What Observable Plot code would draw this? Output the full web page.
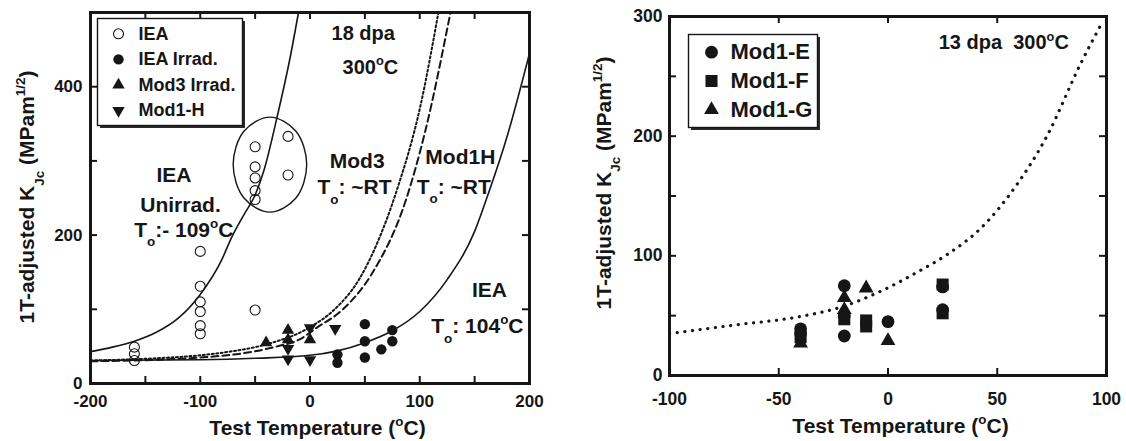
<!DOCTYPE html>
<html><head><meta charset="utf-8">
<script src="https://cdn.jsdelivr.net/npm/d3@7"></script>
<script src="https://cdn.jsdelivr.net/npm/@observablehq/plot@0.6"></script>
<style>
body{margin:0;background:#fff;}
#wrap{display:flex;width:1126px;height:441px;overflow:hidden;}
</style></head><body><div id="wrap"></div>
<script>
// ---------------- DATA ----------------
// Left panel: [test temperature °C, 1T-adjusted KJc MPa·m^1/2]
const ieaUnirr = [[-160,49],[-160,40],[-160,31],[-100,178],[-100,131],[-100,110],[-100,97],[-100,78],[-100,67],
  [-50,99],[-50,319],[-50,292],[-50,277],[-50,260],[-50,248],[-20,333],[-20,281]];
const ieaIrrad = [[25,39],[25,28],[50,80],[50,57],[50,35],[65,46],[75,72],[75,57]];
const mod3Irrad = [[-40,55],[-20,72],[-20,59],[0,59]];
const mod1H = [[-20,47],[-20,33],[0,75],[0,32],[23,74]];
// fitted master curves
const curveIEAUnirr = [[-200,43],[-180,49],[-160,57],[-140,69],[-120,88],[-100,120],[-80,168],[-72,195],[-60,228],[-50,254],[-42,287],[-30,359],[-18,440],[-10.5,500]];
const curveMod3 = [[-200,31],[-140,34],[-100,38],[-73,43],[-50,49],[-30,57],[-10,68],[0,76],[21,98],[45,141],[60,185],[79,260],[100,370],[117,500]];
const curveMod1H = [[-200,30],[-140,32],[-100,35],[-60,41],[-30,50],[-10,59],[6,75],[30,100],[56,147],[88,250],[105,340],[128,500]];
const curveIEAIrrad = [[-200,31],[-100,32],[-50,34],[0,38],[25,44],[50,55],[75,71],[100,97],[125,140],[150,205],[163,258],[180,335],[200,445]];
// ellipse drawn round the unirradiated IEA points near -40 °C
const ellipsePts = [[-70,295],[-60.2,340],[-36.5,359],[-12.8,340],[-3,295],[-12.8,250],[-36.5,231],[-60.2,250]];
const legendLeft = ["IEA","IEA Irrad.","Mod3 Irrad.","Mod1-H"];
const labelsLeftBig = [
  {T:-124, K:281, label:"IEA"},
  {T:-118, K:240, label:"Unirrad."},
  {T:-115, K:207, label:"T_{o}:- 109^{o}C"},
  {T:43, K:300, label:"Mod3"},
  {T:40.5, K:264, label:"T_{o}: ~RT"},
  {T:137, K:305, label:"Mod1H"},
  {T:131, K:265, label:"T_{o}: ~RT"},
  {T:163.5, K:125, label:"IEA"},
  {T:152.5, K:77, label:"T_{o}: 104^{o}C"}
];
const labelsLeftSmall = [
  {T:48.5, K:472, label:"18 dpa"},
  {T:55, K:426, label:"300^{o}C"}
];
const xTicksL = [-200,-100,0,100,200], xMinorL = [-150,-100,-50,0,50,100,150];
const yTicksL = [0,200,400], yMinorL = [100,200,300,400];

// Right panel
const mod1E = [[-40,39],[-40,35],[-20,75],[-20,50],[-20,33],[0,45],[25,74],[25,55]];
const mod1F = [[-40,32],[-20,47],[-10,46],[-10,41],[25,76],[25,52]];
const mod1G = [[-40,27],[-20,65],[-20,55],[-10,73],[0,29]];
const curveRight = [[-100,35],[-71,42],[-41,49],[-20,58],[-5,69],[14,87],[27,101],[43,124],[58,157],[73,201],[88,260],[98,295]];
const legendRight = ["Mod1-E","Mod1-F","Mod1-G"];
const labelsRight = [{T:53, K:278, label:"13 dpa  300^{o}C"}];
const xTicksR = [-100,-50,0,50,100], xMinorR = [-50,0,50];
const yTicksR = [0,100,200,300], yMinorR = [50,100,150,200,250];
const xTitle = "Test Temperature (^{o}C)";
const yTitle = "1T-adjusted K_{Jc} (MPam^{1/2})";

// ---------------- STYLE ----------------
const FONT = '"Liberation Sans", Arial, Helvetica, sans-serif';
const INK = "#161616";
const fmt = d => String(d);
const triangleDown = {draw(ctx, size){ const s3=Math.sqrt(3); const y=Math.sqrt(size/(s3*3)); ctx.moveTo(0,y*2); ctx.lineTo(-s3*y,-y); ctx.lineTo(s3*y,-y); ctx.closePath(); }};
const symLeft = {
  "IEA": {symbol:"circle", r:5, fill:"none", stroke:INK, sw:1.1},
  "IEA Irrad.": {symbol:"circle", r:5.2, fill:INK, stroke:"none", sw:0},
  "Mod3 Irrad.": {symbol:"triangle", r:4.6, fill:INK, stroke:"none", sw:0},
  "Mod1-H": {symbol:triangleDown, r:4.6, fill:INK, stroke:"none", sw:0}
};
const symRight = {
  "Mod1-E": {symbol:"circle", r:6.4, fill:INK},
  "Mod1-F": {symbol:"square", r:6.8, fill:INK},
  "Mod1-G": {symbol:"triangle", r:5.5, fill:INK}
};

function inwardTicks(xs, ys, iw, ih, len=7){
  const o = {stroke:INK, strokeWidth:2};
  return [
    Plot.tickX(xs, {x:d=>d, insetTop:ih-len, ...o}),
    Plot.tickX(xs, {x:d=>d, insetBottom:ih-len, ...o}),
    Plot.tickY(ys, {y:d=>d, insetRight:iw-len, ...o}),
    Plot.tickY(ys, {y:d=>d, insetLeft:iw-len, ...o})
  ];
}
function legendMarks(names, styles, {x0, y0, step, tx, fontSize, box, shadow}){
  const m = [
    Plot.frame({...shadow, fill:"#2a2a2a", stroke:"none"}),
    Plot.frame({...box, fill:"white", stroke:INK, strokeWidth:1.4})
  ];
  names.forEach((name, i) => {
    const st = styles[name];
    m.push(Plot.dot([name], {frameAnchor:"top-left", dx:x0, dy:y0+i*step, symbol:st.symbol, r:st.r, fill:st.fill, stroke:st.stroke||"none", strokeWidth:st.sw||0}));
    m.push(Plot.text([name], {frameAnchor:"top-left", dx:tx, dy:y0+i*step, text:d=>d, textAnchor:"start", lineAnchor:"middle", fontSize, fill:INK}));
  });
  return m;
}
const X = d => d[0], Y = d => d[1];

// ---------------- LEFT PANEL ----------------
const WL=560, HL=441, mL={l:90,r:31,t:12,b:58};
const iwL = WL-mL.l-mL.r, ihL = HL-mL.t-mL.b;
const left = Plot.plot({
  width:WL, height:HL, marginLeft:mL.l, marginRight:mL.r, marginTop:mL.t, marginBottom:mL.b,
  style:{fontFamily:FONT, fontSize:"17px", fontWeight:"bold", color:INK, background:"white", overflow:"visible"},
  x:{domain:[-200,200], label:null},
  y:{domain:[0,500], label:null},
  marks:[
    Plot.axisX({ticks:xTicksL, tickSize:0, tickPadding:11, tickFormat:fmt, fontSize:17}),
    Plot.axisY({ticks:yTicksL, tickSize:0, tickPadding:8, tickFormat:fmt, fontSize:17}),
    ...inwardTicks(xMinorL, yMinorL, iwL, ihL),
    Plot.line(curveIEAIrrad, {x:X, y:Y, curve:"monotone-x", stroke:INK, strokeWidth:1.6, clip:true}),
    Plot.line(curveMod1H, {x:X, y:Y, curve:"monotone-x", stroke:INK, strokeWidth:2, strokeDasharray:"7,4", clip:true}),
    Plot.line(curveMod3, {x:X, y:Y, curve:"monotone-x", stroke:INK, strokeWidth:2, strokeDasharray:"2,2.5", clip:true}),
    Plot.line(curveIEAUnirr, {x:X, y:Y, curve:"monotone-x", stroke:INK, strokeWidth:1.6, clip:true}),
    Plot.line(ellipsePts, {x:X, y:Y, curve:"catmull-rom-closed", stroke:INK, strokeWidth:1.4}),
    Plot.dot(ieaUnirr, {x:X, y:Y, symbol:"circle", r:5, fill:"none", stroke:INK, strokeWidth:1.1}),
    Plot.dot(ieaIrrad, {x:X, y:Y, symbol:"circle", r:5.2, fill:INK}),
    Plot.dot(mod3Irrad, {x:X, y:Y, symbol:"triangle", r:4.6, fill:INK}),
    Plot.dot(mod1H, {x:X, y:Y, symbol:triangleDown, r:4.6, fill:INK}),
    Plot.text(labelsLeftBig, {x:"T", y:"K", text:"label", fontSize:21, fill:INK}),
    Plot.text(labelsLeftSmall, {x:"T", y:"K", text:"label", fontSize:20, fill:INK}),
    ...legendMarks(legendLeft, symLeft, {x0:28, y0:21.3, step:25.6, tx:48, fontSize:18,
      box:{insetLeft:7, insetTop:6, insetRight:287, insetBottom:258},
      shadow:{insetLeft:9.5, insetTop:8.5, insetRight:284.5, insetBottom:255.5}}),
    Plot.frame({stroke:INK, strokeWidth:3}),
    Plot.text([xTitle], {frameAnchor:"bottom", dx:7.5, dy:45, text:d=>d, textAnchor:"middle", lineAnchor:"middle", fontSize:21, fill:INK}),
    Plot.text([yTitle], {frameAnchor:"left", dx:-63, dy:-1, rotate:-90, text:d=>d, textAnchor:"middle", lineAnchor:"middle", fontSize:21, fill:INK})
  ]
});

// ---------------- RIGHT PANEL ----------------
const WR=566, HR=441, mR={l:109,r:20,t:16,b:66};
const iwR = WR-mR.l-mR.r, ihR = HR-mR.t-mR.b;
const right = Plot.plot({
  width:WR, height:HR, marginLeft:mR.l, marginRight:mR.r, marginTop:mR.t, marginBottom:mR.b,
  style:{fontFamily:FONT, fontSize:"17px", fontWeight:"bold", color:INK, background:"white", overflow:"visible"},
  x:{domain:[-100,100], label:null},
  y:{domain:[0,300], label:null},
  marks:[
    Plot.axisX({ticks:xTicksR, tickSize:0, tickPadding:17, tickFormat:fmt, fontSize:17.5}),
    Plot.axisY({ticks:yTicksR, tickSize:0, tickPadding:7, tickFormat:fmt, fontSize:17.5}),
    ...inwardTicks(xMinorR, yMinorR, iwR, ihR),
    Plot.line(curveRight, {x:X, y:Y, curve:"monotone-x", stroke:INK, strokeWidth:3.2, strokeDasharray:"0.1,7.6", strokeLinecap:"round", clip:true}),
    Plot.dot(mod1F, {x:X, y:Y, symbol:"square", r:6.8, fill:INK}),
    Plot.dot(mod1G, {x:X, y:Y, symbol:"triangle", r:5.5, fill:INK}),
    Plot.dot(mod1E, {x:X, y:Y, symbol:"circle", r:6.4, fill:INK}),
    Plot.text(labelsRight, {x:"T", y:"K", text:"label", fontSize:20, fill:INK}),
    ...legendMarks(legendRight, symRight, {x0:42, y0:35.7, step:28.8, tx:61, fontSize:22,
      box:{insetLeft:19, insetTop:18, insetRight:289, insetBottom:248},
      shadow:{insetLeft:21.5, insetTop:20.5, insetRight:286.5, insetBottom:245.5}}),
    Plot.frame({stroke:INK, strokeWidth:3}),
    Plot.text([xTitle], {frameAnchor:"bottom", dx:12.5, dy:51, text:d=>d, textAnchor:"middle", lineAnchor:"middle", fontSize:21, fill:INK}),
    Plot.text([yTitle], {frameAnchor:"left", dx:-65.5, dy:-13, rotate:-90, text:d=>d, textAnchor:"middle", lineAnchor:"middle", fontSize:21, fill:INK})
  ]
});

const wrap = document.getElementById("wrap");
wrap.appendChild(left);
wrap.appendChild(right);

// rich text: ^{...} superscript, _{...} subscript
function rich(svg){
  svg.querySelectorAll("text").forEach(t => {
    const s = t.textContent;
    if (!/[\^_]\{/.test(s)) return;
    const fs = parseFloat(getComputedStyle(t).fontSize) || 17;
    const parts = s.split(/(\^\{[^}]*\}|_\{[^}]*\})/).filter(p => p !== "");
    while (t.firstChild) t.removeChild(t.firstChild);
    let shift = 0;
    for (const p of parts){
      const ts = document.createElementNS("http://www.w3.org/2000/svg","tspan");
      let target = 0, txt = p, small = false;
      if (p.startsWith("^{")) { target = -0.42*fs; txt = p.slice(2,-1); small = true; }
      else if (p.startsWith("_{")) { target = 0.45*fs; txt = p.slice(2,-1); small = true; }
      if (target - shift !== 0) ts.setAttribute("dy", (target - shift).toFixed(2));
      shift = target;
      if (small) ts.setAttribute("font-size", (0.64*fs).toFixed(1)+"px");
      ts.textContent = txt;
      t.appendChild(ts);
    }
  });
}
rich(left); rich(right);
</script></body></html>
